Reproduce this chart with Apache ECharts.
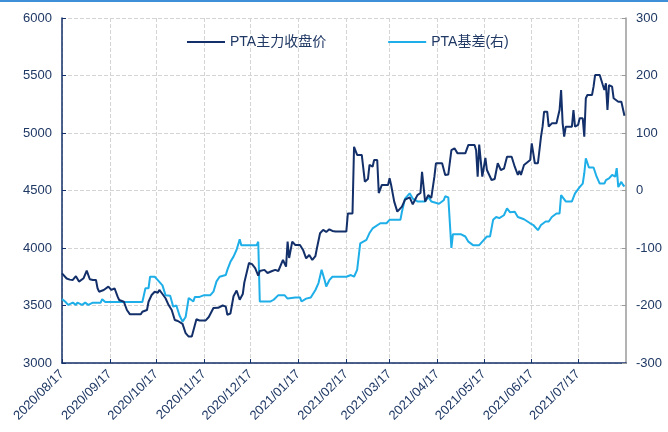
<!DOCTYPE html>
<html>
<head>
<meta charset="utf-8" />
<title>PTA</title>
<script src="https://cdn.jsdelivr.net/npm/echarts@6/dist/echarts.min.js"></script>
<style>
html, body { margin: 0; padding: 0; background: #fff; }
#main { width: 668px; height: 432px; border-top: 2px solid #3d8fd8; box-sizing: border-box; }
</style>
</head>
<body>
<div id="main"></div>
<script>
// PTA主力收盘价 (左轴)
var priceDates = ['2020/08/17','2020/08/20','2020/08/22','2020/08/24','2020/08/26','2020/08/28','2020/08/31','2020/09/02','2020/09/04','2020/09/06',
  '2020/09/08','2020/09/09','2020/09/10','2020/09/13','2020/09/14','2020/09/16','2020/09/18','2020/09/19','2020/09/20','2020/09/22',
  '2020/09/23','2020/09/26','2020/09/28','2020/09/30','2020/10/07','2020/10/08','2020/10/11','2020/10/12','2020/10/14','2020/10/16',
  '2020/10/18','2020/10/19','2020/10/21','2020/10/23','2020/10/25','2020/10/27','2020/10/29','2020/10/31','2020/11/03','2020/11/05',
  '2020/11/07','2020/11/09','2020/11/10','2020/11/12','2020/11/14','2020/11/18','2020/11/20','2020/11/23','2020/11/26','2020/11/29',
  '2020/12/01','2020/12/02','2020/12/04','2020/12/06','2020/12/08','2020/12/10','2020/12/12','2020/12/13','2020/12/16','2020/12/18',
  '2020/12/20','2020/12/22','2020/12/23','2020/12/26','2020/12/28','2020/12/31','2021/01/02','2021/01/04','2021/01/07','2021/01/09',
  '2021/01/10','2021/01/11','2021/01/13','2021/01/15','2021/01/18','2021/01/20','2021/01/22','2021/01/24','2021/01/26','2021/01/28',
  '2021/01/29','2021/01/31','2021/02/02','2021/02/04','2021/02/06','2021/02/08','2021/02/10','2021/02/17','2021/02/18','2021/02/21',
  '2021/02/22','2021/02/24','2021/02/27','2021/03/01','2021/03/03','2021/03/04','2021/03/06','2021/03/07','2021/03/09','2021/03/10',
  '2021/03/12','2021/03/16','2021/03/17','2021/03/18','2021/03/20','2021/03/22','2021/03/25','2021/03/27','2021/03/30','2021/04/01',
  '2021/04/04','2021/04/06','2021/04/07','2021/04/09','2021/04/11','2021/04/13','2021/04/15','2021/04/16','2021/04/20','2021/04/22',
  '2021/04/24','2021/04/26','2021/04/28','2021/04/30','2021/05/05','2021/05/07','2021/05/11','2021/05/12','2021/05/13','2021/05/14',
  '2021/05/16','2021/05/18','2021/05/19','2021/05/22','2021/05/24','2021/05/26','2021/05/28','2021/05/30','2021/06/01','2021/06/04',
  '2021/06/06','2021/06/08','2021/06/09','2021/06/10','2021/06/12','2021/06/16','2021/06/17','2021/06/19','2021/06/21','2021/06/23',
  '2021/06/24','2021/06/25','2021/06/27','2021/06/28','2021/06/30','2021/07/03','2021/07/05','2021/07/06','2021/07/07','2021/07/08',
  '2021/07/09','2021/07/13','2021/07/14','2021/07/15','2021/07/17','2021/07/18','2021/07/20','2021/07/21','2021/07/22','2021/07/23',
  '2021/07/26','2021/07/27','2021/07/28','2021/07/31','2021/08/02','2021/08/03','2021/08/04','2021/08/05','2021/08/06','2021/08/08',
  '2021/08/09','2021/08/10','2021/08/12','2021/08/14','2021/08/15','2021/08/16'];
var priceValues = [3780,3735,3725,3722,3755,3708,3737,3803,3728,3722,
  3722,3650,3620,3635,3620,3664,3635,3650,3650,3577,
  3548,3533,3461,3423,3423,3446,3461,3533,3591,3620,
  3611,3635,3600,3563,3504,3461,3374,3365,3340,3260,
  3230,3230,3280,3380,3370,3370,3400,3478,3480,3500,
  3490,3420,3430,3580,3630,3550,3600,3700,3870,3860,
  3826,3760,3800,3810,3783,3800,3810,3800,3896,3838,
  4055,3913,4055,4026,4026,3983,3910,3939,3896,3930,
  4000,4128,4157,4140,4163,4148,4143,4143,4301,4301,
  4880,4809,4809,4577,4600,4722,4707,4765,4765,4478,
  4548,4548,4606,4548,4403,4316,4360,4420,4440,4380,
  4460,4478,4663,4403,4460,4435,4620,4737,4737,4635,
  4640,4852,4867,4823,4823,4896,4896,4850,4620,4900,
  4620,4783,4678,4591,4600,4737,4678,4690,4794,4794,
  4707,4635,4670,4635,4722,4765,4910,4737,4737,4968,
  5055,5185,5185,5055,5084,5084,5200,5374,5084,4968,
  5055,5055,5200,5055,5070,5128,5128,4968,5302,5330,
  5330,5403,5504,5504,5417,5374,5432,5200,5417,5403,
  5302,5287,5272,5272,5260,5150];

// PTA基差 (右轴)
var basisDates = ['2020/08/17','2020/08/19','2020/08/21','2020/08/24','2020/08/26','2020/08/27','2020/08/30','2020/09/01','2020/09/03','2020/09/06',
  '2020/09/11','2020/09/12','2020/09/14','2020/10/08','2020/10/10','2020/10/12','2020/10/13','2020/10/14','2020/10/16','2020/10/18',
  '2020/10/21','2020/10/23','2020/10/26','2020/10/28','2020/10/30','2020/11/01','2020/11/03','2020/11/05','2020/11/07','2020/11/10',
  '2020/11/11','2020/11/14','2020/11/17','2020/11/21','2020/11/23','2020/11/25','2020/11/27','2020/12/01','2020/12/02','2020/12/04',
  '2020/12/06','2020/12/08','2020/12/10','2020/12/11','2020/12/21','2020/12/22','2020/12/23','2020/12/30','2021/01/01','2021/01/04',
  '2021/01/08','2021/01/10','2021/01/15','2021/01/18','2021/01/19','2021/01/22','2021/01/25','2021/01/28','2021/01/30','2021/01/31',
  '2021/02/01','2021/02/03','2021/02/04','2021/02/06','2021/02/08','2021/02/17','2021/02/20','2021/02/22','2021/02/24','2021/02/26',
  '2021/02/28','2021/03/02','2021/03/04','2021/03/06','2021/03/11','2021/03/15','2021/03/17','2021/03/24','2021/03/25','2021/03/27',
  '2021/03/30','2021/04/01','2021/04/04','2021/04/09','2021/04/11','2021/04/13','2021/04/18','2021/04/21','2021/04/22','2021/04/24',
  '2021/04/26','2021/04/27','2021/05/02','2021/05/05','2021/05/07','2021/05/10','2021/05/14','2021/05/16','2021/05/19','2021/05/21',
  '2021/05/23','2021/05/25','2021/05/27','2021/05/30','2021/06/01','2021/06/03','2021/06/06','2021/06/08','2021/06/12','2021/06/16',
  '2021/06/18','2021/06/21','2021/06/23','2021/06/26','2021/06/28','2021/06/30','2021/07/03','2021/07/05','2021/07/06','2021/07/09',
  '2021/07/13','2021/07/15','2021/07/18','2021/07/20','2021/07/21','2021/07/22','2021/07/24','2021/07/27','2021/07/29','2021/07/31',
  '2021/08/03','2021/08/04','2021/08/06','2021/08/08','2021/08/10','2021/08/11','2021/08/12','2021/08/14','2021/08/15','2021/08/16'];
var basisValues = [-189,-193,-199,-195,-199,-195,-199,-195,-199,-195,
  -195,-189,-194,-194,-170,-170,-150,-147,-150,-156,
  -165,-182,-183,-202,-200,-217,-228,-220,-187,-193,
  -185,-185,-182,-182,-176,-158,-150,-147,-138,-124,
  -115,-103,-85,-95,-95,-89,-193,-193,-190,-182,
  -182,-188,-186,-186,-193,-188,-186,-173,-161,-158,
  -138,-156,-167,-156,-150,-150,-147,-150,-138,-92,
  -89,-86,-74,-66,-57,-57,-51,-51,-37,-14,
  -5,-14,-19,-19,-11,-19,-23,-17,-10,-12,
  -100,-76,-76,-80,-89,-95,-95,-89,-80,-80,
  -51,-46,-48,-43,-31,-38,-37,-46,-50,-57,
  -60,-69,-60,-54,-54,-46,-40,-40,-8,-19,
  -19,-5,6,12,30,56,40,40,24,12,
  12,18,21,27,24,39,6,15,10,7];

var startDate = '2020/08/17';
var endDate = '2021/08/17';
var leftMin = 3000, leftMax = 6000, leftStep = 500;
var rightMin = -300, rightMax = 300, rightStep = 100;

function pad(n) { return n < 10 ? '0' + n : '' + n; }
var days = [];
var cur = new Date(startDate.replace(/\//g, '-') + 'T00:00:00Z');
var last = new Date(endDate.replace(/\//g, '-') + 'T00:00:00Z');
while (cur <= last) {
  days.push(cur.getUTCFullYear() + '/' + pad(cur.getUTCMonth() + 1) + '/' + pad(cur.getUTCDate()));
  cur = new Date(cur.getTime() + 86400000);
}
function monthMark(idx, val) {
  return val.slice(8) === '17' && idx < days.length - 1;
}

var navy = '#13306a';
var textColor = '#1f3864';
var font = 'Liberation Sans, Arial, sans-serif';

var myChart = echarts.init(document.getElementById('main'));
myChart.setOption({
  animation: false,
  grid: { left: 62, right: 42, top: 16, bottom: 69, containLabel: false },
  legend: {
    left: 182,
    top: 28,
    icon: 'rect',
    itemWidth: 38,
    itemHeight: 2,
    itemGap: 62,
    textStyle: { color: textColor, fontSize: 14, fontFamily: 'Liberation Sans, Noto Sans CJK SC, sans-serif' },
    data: ['PTA主力收盘价', 'PTA基差(右)']
  },
  xAxis: {
    type: 'category',
    data: days,
    boundaryGap: false,
    axisLine: { onZero: false, lineStyle: { color: navy, width: 1.5 } },
    axisTick: { inside: true, length: 4, interval: monthMark, lineStyle: { color: navy } },
    axisLabel: { interval: monthMark, rotate: 45, color: textColor, fontSize: 13, fontFamily: font, margin: 9 },
    splitLine: { show: true, interval: monthMark, lineStyle: { color: '#d4d4d4', type: 'dashed' } }
  },
  yAxis: [{
    type: 'value',
    min: leftMin, max: leftMax, interval: leftStep,
    axisLine: { show: true, lineStyle: { color: navy, width: 1.5 } },
    axisTick: { show: true, inside: true, length: 4, lineStyle: { color: navy } },
    axisLabel: { color: textColor, fontSize: 13, fontFamily: font, margin: 10, formatter: function (v) { return String(v); } },
    splitLine: { lineStyle: { color: '#d4d4d4', type: 'dashed' } }
  }, {
    type: 'value',
    min: rightMin, max: rightMax, interval: rightStep,
    position: 'right',
    axisLine: { show: true, lineStyle: { color: '#9a9a9a', width: 1.5 } },
    axisTick: { show: true, inside: true, length: 4, lineStyle: { color: '#9a9a9a' } },
    axisLabel: { color: textColor, fontSize: 13, fontFamily: font, margin: 10, formatter: function (v) { return String(v); } },
    splitLine: { show: false }
  }],
  series: [{
    name: 'PTA主力收盘价',
    type: 'line',
    yAxisIndex: 0,
    symbol: 'none',
    color: navy,
    lineStyle: { width: 2 },
    data: priceDates.map(function (d, i) { return [d, priceValues[i]]; }),
    z: 3
  }, {
    name: 'PTA基差(右)',
    type: 'line',
    yAxisIndex: 1,
    symbol: 'none',
    color: '#1eaee8',
    lineStyle: { width: 2 },
    data: basisDates.map(function (d, i) { return [d, basisValues[i]]; }),
    z: 2
  }]
});
</script>
</body>
</html>
